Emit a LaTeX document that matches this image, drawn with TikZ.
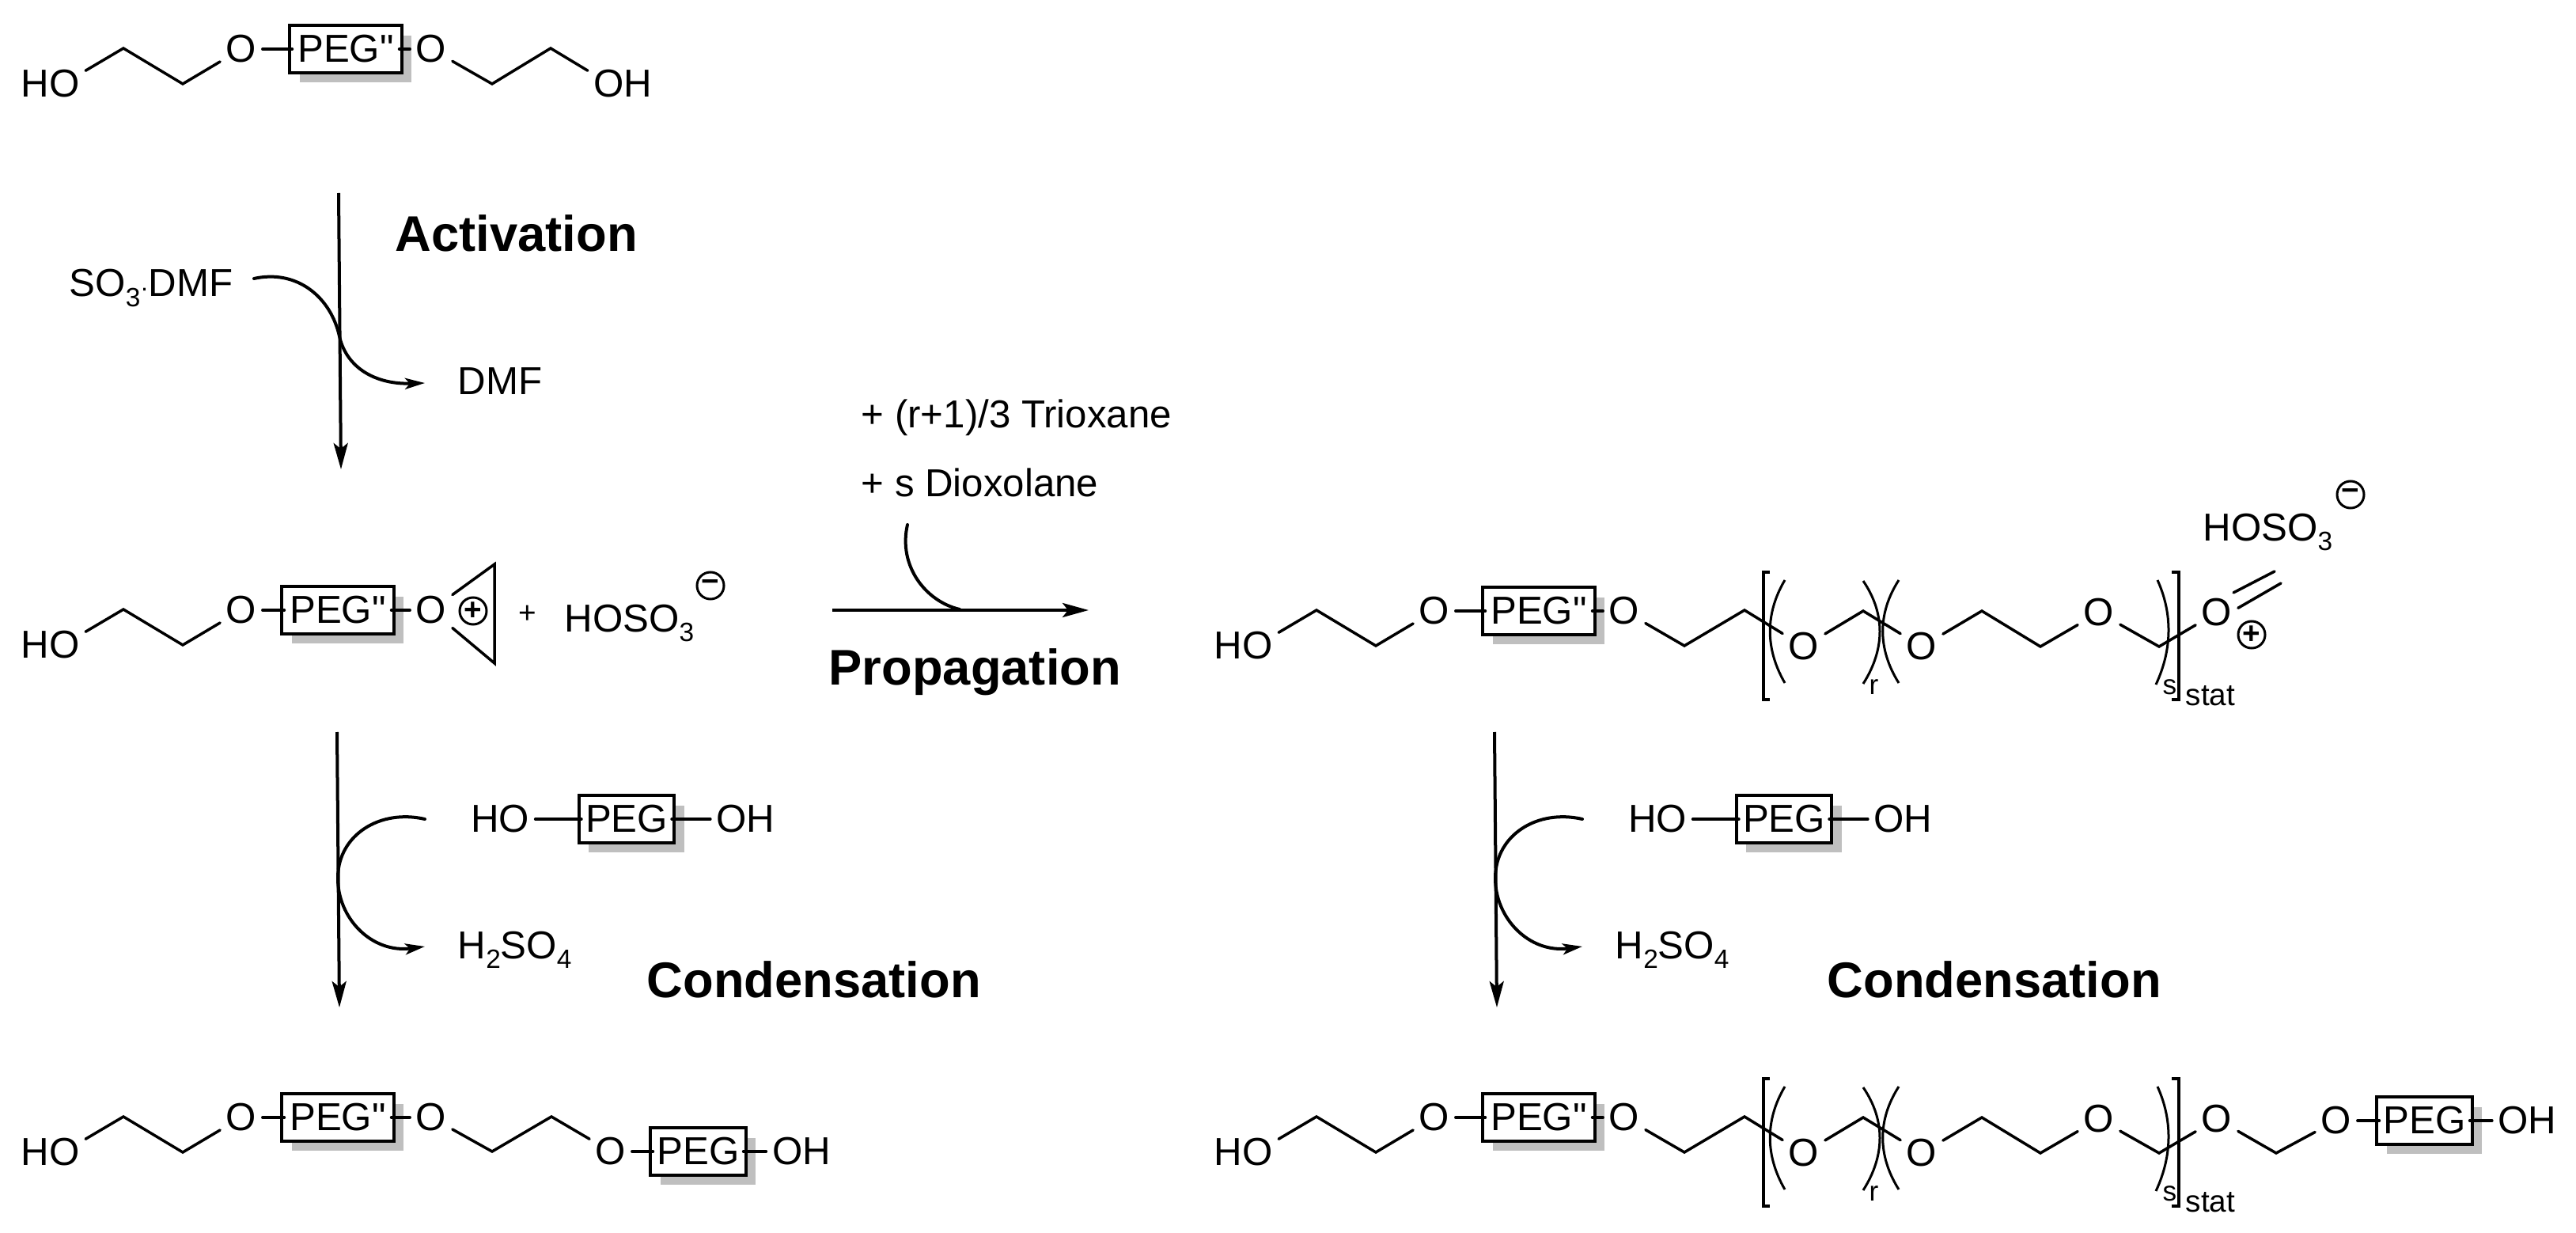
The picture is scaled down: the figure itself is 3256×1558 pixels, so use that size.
\documentclass[tikz,border=0pt]{standalone}
\usepackage{fontspec}
\setmainfont{Liberation Sans}
\newfontfamily\boxfont{Liberation Sans}
\usetikzlibrary{arrows.meta,shadows}
\definecolor{shadegray}{gray}{.75}
\tikzset{
	bond/.style={line width=.035cm,line cap=round},
	atom/.style={font=\fontsize{14}{16}\selectfont,inner sep=.07cm},
	chemtext/.style={font=\fontsize{14}{16}\selectfont,inner sep=0pt,anchor=base west},
	smalltext/.style={font=\fontsize{10}{12}\selectfont,inner sep=0pt,anchor=base west},
	headline/.style={font=\fontsize{18}{20}\selectfont\bfseries,inner sep=0pt,anchor=base west},
	pegbox/.style={draw,line width=.04cm,fill=white,inner sep=0pt,outer sep=-.03cm,minimum height=.59cm,
		font=\boxfont\fontsize{14}{16}\selectfont,
		drop shadow={shadow xshift=.125cm,shadow yshift=-.125cm,fill=shadegray,opacity=1}},
	widebox/.style={pegbox,minimum width=1.41cm},
	narrowbox/.style={pegbox,minimum width=1.2cm},
	chargecirc/.style={circle,draw,line width=.03cm,inner sep=0pt,minimum size=.34cm,font=\fontsize{11}{12}\selectfont\bfseries},
	rxnarrow/.style={line width=.04cm,-{Stealth[length=.33cm,width=.18cm,inset=.07cm]}},
	sidearrow/.style={line width=.04cm,line cap=round,-{Stealth[length=.25cm,width=.14cm,inset=.06cm]}},
	polyline/.style={line width=.03cm},
	bracket/.style={line width=.04cm}
}
\newcommand{\subnum}[1]{\raisebox{-.12cm}{\fontsize{9.5}{10}\selectfont #1}}
\newcommand{\pegarm}[4]{%
	\begin{scope}[shift={(#2,#3)}]
		\node[atom] (#1ho) at (63.5,105.5) {HO};
		\coordinate (#1ca) at (156,61);
		\coordinate (#1cb) at (231,106);
		\node[atom] (#1oa) at (305,62) {O};
		\node[widebox] (#1peg) at (#4,62) {PEG"};
		\node[atom] (#1ob) at (545,62) {O};
		\draw[bond] (#1ho.20) -- (#1ca) -- (#1cb) -- (#1oa);
		\draw[bond] (#1oa) -- (#1peg);
		\draw[bond] (#1peg) -- (#1ob);
	\end{scope}}
\newcommand{\condstep}[2]{%
	\begin{scope}[shift={(#2,0)}]
		\coordinate (#1top) at (426,925);
		\coordinate (#1tip) at (429,1273);
		\coordinate (#1cs) at (537,1035);
		\coordinate (#1ce) at (537,1196);
		\draw[rxnarrow] (#1top) -- (#1tip);
		\draw[sidearrow] (#1cs) .. controls (480,1022) and (428,1055) .. (427,1108)
			.. controls (426,1160) and (470,1205) .. (#1ce);
		\node[atom] (#1ho) at (632,1035) {HO};
		\node[narrowbox] (#1peg) at (792,1035) {PEG};
		\node[atom] (#1oh) at (942.5,1035) {OH};
		\draw[bond] (#1ho) -- (#1peg);
		\draw[bond] (#1peg) -- (#1oh);
		\node[chemtext] (#1acid) at (578,1211) {H\subnum{2}SO\subnum{4}};
	\end{scope}}
\newcommand{\polyblock}[3]{%
	\begin{scope}[shift={(0,#3)}]
		\coordinate (#1a) at (2129,816);
		\coordinate (#1b) at (2205,771);
		\node[atom] (#1oa) at (2280,817) {O};
		\coordinate (#1c) at (2355,772);
		\node[atom] (#1ob) at (2429,817) {O};
		\coordinate (#1d) at (2505,772);
		\coordinate (#1e) at (2579,817);
		\node[atom] (#1oc) at (2653,774) {O};
		\coordinate (#1f) at (2729,817);
		\node[atom] (#1od) at (2802,774) {O};
		\draw[bond] (#2ob) -- (#1a) -- (#1b) -- (#1oa) -- (#1c) -- (#1ob) -- (#1d) -- (#1e) -- (#1oc) -- (#1f) -- (#1od);
		\draw[bracket] (2237,723) -- (2229,723) -- (2229,884) -- (2237,884);
		\draw[bracket] (2745,723) -- (2754,723) -- (2754,884) -- (2745,884);
		\draw[polyline] (2256,733) .. controls (2231,775) and (2231,820) .. (2256,863);
		\draw[polyline] (2355,734) .. controls (2383,775) and (2383,820) .. (2355,864);
		\draw[polyline] (2400,733) .. controls (2373,775) and (2373,820) .. (2400,863);
		\draw[polyline] (2727,733) .. controls (2746,775) and (2746,820) .. (2725,865);
		\node[smalltext] (#1r) at (2362,877) {r};
		\node[smalltext] (#1s) at (2733,877) {s};
		\node[smalltext,font=\fontsize{11}{12}\selectfont] (#1stat) at (2762,891) {stat};
	\end{scope}}
\begin{document}
\begin{tikzpicture}[x=.01cm,y=-.01cm]
	\useasboundingbox (0,0) rectangle (3256,1558);
	\pegarm{t}{0}{0}{437}
	\coordinate (tc) at (622,106);
	\coordinate (td) at (696,61);
	\node[atom] (toh) at (787.5,105.5) {OH};
	\draw[bond] (tob) -- (tc) -- (td) -- (toh.160);

	\coordinate (atop) at (428,244);
	\coordinate (atip) at (431,593);
	\coordinate (acs) at (321,352);
	\coordinate (ace) at (537,484);
	\draw[rxnarrow] (atop) -- (atip);
	\draw[sidearrow] (acs) .. controls (375,340) and (418,375) .. (429,425)
		.. controls (438,465) and (475,486) .. (ace);
	\node[headline] (act) at (499,318) {Activation};
	\node[chemtext] (so3) at (87,375) {SO\subnum{3}{\fontsize{9}{10}\selectfont ·}DMF};
	\node[chemtext] (dmf) at (578,499) {DMF};

	\pegarm{m}{0}{709}{427}
	\coordinate (mra) at (625,713);
	\coordinate (mrb) at (625,838);
	\draw[bond] (mob) -- (mra) -- (mrb) -- (mob);
	\node[chargecirc] (mplus) at (598,772) {+};
	\node[font=\fontsize{11}{12}\selectfont,inner sep=0pt] (mand) at (667,776) {+};
	\node[chemtext] (msalt) at (713,798) {HOSO\subnum{3}};
	\node[chargecirc] (mminus) at (898,740) {−};

	\condstep{l}{0}
	\node[headline] (lcond) at (817,1260) {Condensation};

	\pegarm{b}{0}{1350}{427}
	\coordinate (bc) at (622,1455);
	\coordinate (bd) at (697,1411);
	\node[atom] (boc) at (772,1455) {O};
	\node[narrowbox] (bpeg) at (882.5,1455) {PEG};
	\node[atom] (boh) at (1013,1455) {OH};
	\draw[bond] (bob) -- (bc) -- (bd) -- (boc);
	\draw[bond] (boc) -- (bpeg);
	\draw[bond] (bpeg) -- (boh);

	\node[chemtext] (tri) at (1088,541) {+ (r+1)/3 Trioxane};
	\node[chemtext] (diox) at (1088,628) {+ s Dioxolane};
	\coordinate (pl) at (1052,771);
	\coordinate (pr) at (1376,771);
	\coordinate (pcs) at (1147,663);
	\coordinate (pce) at (1213,770);
	\draw[rxnarrow] (pl) -- (pr);
	\draw[line width=.04cm,line cap=round] (pcs) .. controls (1135,715) and (1170,760) .. (pce);
	\node[headline] (prop) at (1047,865) {Propagation};

	\pegarm{r}{1508}{710}{437}
	\polyblock{u}{r}{0}
	\coordinate (uda) at (2875,722);
	\coordinate (udb) at (2883,737);
	\draw[bond] (uod.50) -- (uda);
	\draw[bond] (uod.12) -- (udb);
	\node[chargecirc] (uplus) at (2846,802) {+};
	\node[chemtext] (usalt) at (2784,683) {HOSO\subnum{3}};
	\node[chargecirc] (uminus) at (2971,625) {−};

	\condstep{n}{1463}
	\node[headline] (ncond) at (2309,1260) {Condensation};

	\pegarm{e}{1508}{1350}{437}
	\polyblock{v}{e}{640}
	\coordinate (vg) at (2877,1457);
	\node[atom] (voe) at (2953,1416) {O};
	\node[narrowbox] (vpeg) at (3064.5,1416) {PEG};
	\node[atom] (voh) at (3194.5,1416) {OH};
	\draw[bond] (vod) -- (vg) -- (voe);
	\draw[bond] (voe) -- (vpeg);
	\draw[bond] (vpeg) -- (voh);
\end{tikzpicture}
\end{document}
